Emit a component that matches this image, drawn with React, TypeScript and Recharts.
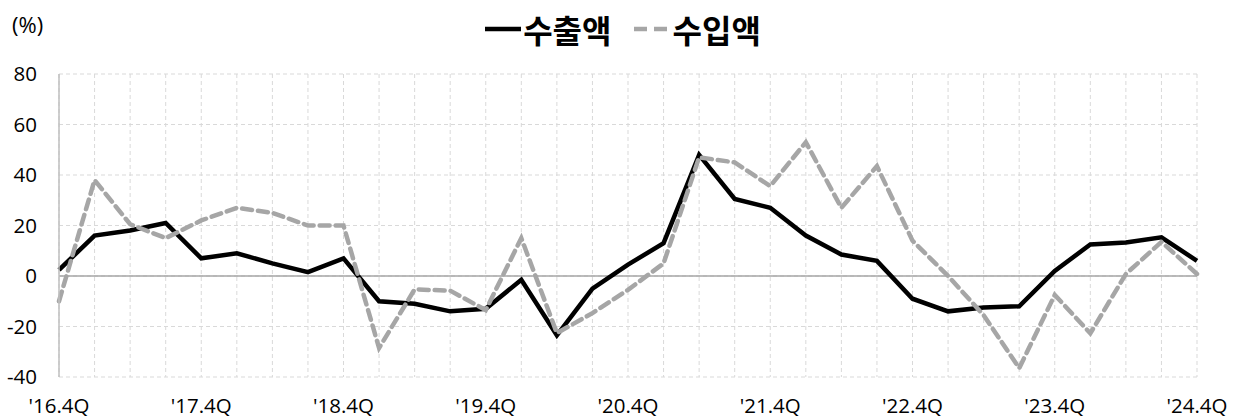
import { LineChart, Line, XAxis, YAxis, CartesianGrid, ReferenceLine } from 'recharts'

// quarters from '16.4Q to '24.4Q
const QUARTERS: string[] = []
for (let y = 16; y <= 24; y++) {
  for (let q = 1; q <= 4; q++) {
    if (y === 16 && q < 4) continue
    QUARTERS.push(`'${y}.${q}Q`)
    if (y === 24 && q === 4) break
  }
}

const EXPORTS = [
  2.4, 16, 18, 21, 7, 9, 5, 1.5, 7, -10, -11, -14, -13, -1.5, -23.5, -5, 4.5,
  13, 48, 30.5, 27, 16, 8.5, 6, -9, -14, -12.5, -12, 2, 12.5, 13.3, 15.3, 6,
]

const IMPORTS = [
  -10, 38, 20.5, 15, 22, 27, 25, 20, 20, -28.5, -5.3, -5.8, -13.5, 15, -22.6, -14.7, -5.5,
  5, 47, 45, 35.6, 53, 27, 43.5, 14, 0, -15.5, -36.5, -7.5, -22.7, 0.8, 13.5, 0.8,
]

const Y_TICKS = [-40, -20, 0, 20, 40, 60, 80]

const data = QUARTERS.map((q, i) => ({ q, exp: EXPORTS[i], imp: IMPORTS[i] }))

const FONT = '"Open Sans", "Noto Sans CJK KR", sans-serif'
const TICK_STYLE = { fontSize: 20.5, fill: '#000', fontFamily: FONT }
const GRID_COLOR = '#d9d9d9'
const IMPORT_COLOR = '#a6a6a6'

// only every 4th quarter gets a label, but every quarter keeps its grid line
function QuarterTick(props: any) {
  const { x, y, payload, index } = props
  if (index % 4 !== 0) return null
  return (
    <text x={x} y={y} dy="0.71em" textAnchor="middle" {...TICK_STYLE}>
      {payload.value}
    </text>
  )
}

function LegendBox() {
  const text = { fontFamily: '"Noto Sans CJK KR", sans-serif', fontWeight: 700, fontSize: 32, color: '#000', lineHeight: '38px' }
  return (
    <div
      style={{
        position: 'absolute',
        top: 10,
        left: 0,
        width: 1244,
        display: 'flex',
        justifyContent: 'center',
        alignItems: 'center',
      }}
    >
      <svg width={40} height={10} style={{ marginRight: 0 }}>
        <line x1={2} y1={5} x2={38} y2={5} stroke="#000" strokeWidth={4.5} />
      </svg>
      <span style={text}>수출액</span>
      <svg width={36} height={10} style={{ marginLeft: 20, marginRight: 5 }}>
        <line x1={2} y1={5} x2={35} y2={5} stroke={IMPORT_COLOR} strokeWidth={4.5} strokeDasharray="13 7" />
      </svg>
      <span style={text}>수입액</span>
    </div>
  )
}

export default function App() {
  return (
    <div style={{ position: 'absolute', left: 0, top: 0, width: 1244, height: 419, background: '#fff' }}>
      <div style={{ position: 'absolute', left: 12, top: 9, fontSize: 22, fontFamily: FONT }}>(%)</div>
      <LegendBox />
      <LineChart width={1244} height={419} data={data} margin={{ top: 74, right: 47, bottom: 0, left: 0 }}>
        <CartesianGrid stroke={GRID_COLOR} strokeDasharray="4 3" />
        <XAxis
          dataKey="q"
          interval={0}
          axisLine={false}
          tickLine={false}
          tick={<QuarterTick />}
          tickMargin={15}
          height={42}
        />
        <YAxis
          domain={[-40, 80]}
          ticks={Y_TICKS}
          width={59}
          axisLine={{ stroke: '#bfbfbf', strokeWidth: 1.5 }}
          tickLine={false}
          tick={TICK_STYLE}
          tickSize={0}
          tickMargin={22}
          interval={0}
        />
        <ReferenceLine y={0} stroke="#a6a6a6" strokeWidth={1.5} />
        <Line
          dataKey="exp"
          stroke="#000"
          strokeWidth={4.5}
          dot={false}
          isAnimationActive={false}
        />
        <Line
          dataKey="imp"
          stroke={IMPORT_COLOR}
          strokeWidth={4.5}
          strokeDasharray="10 6"
          strokeLinecap="round"
          dot={false}
          isAnimationActive={false}
        />
      </LineChart>
    </div>
  )
}
